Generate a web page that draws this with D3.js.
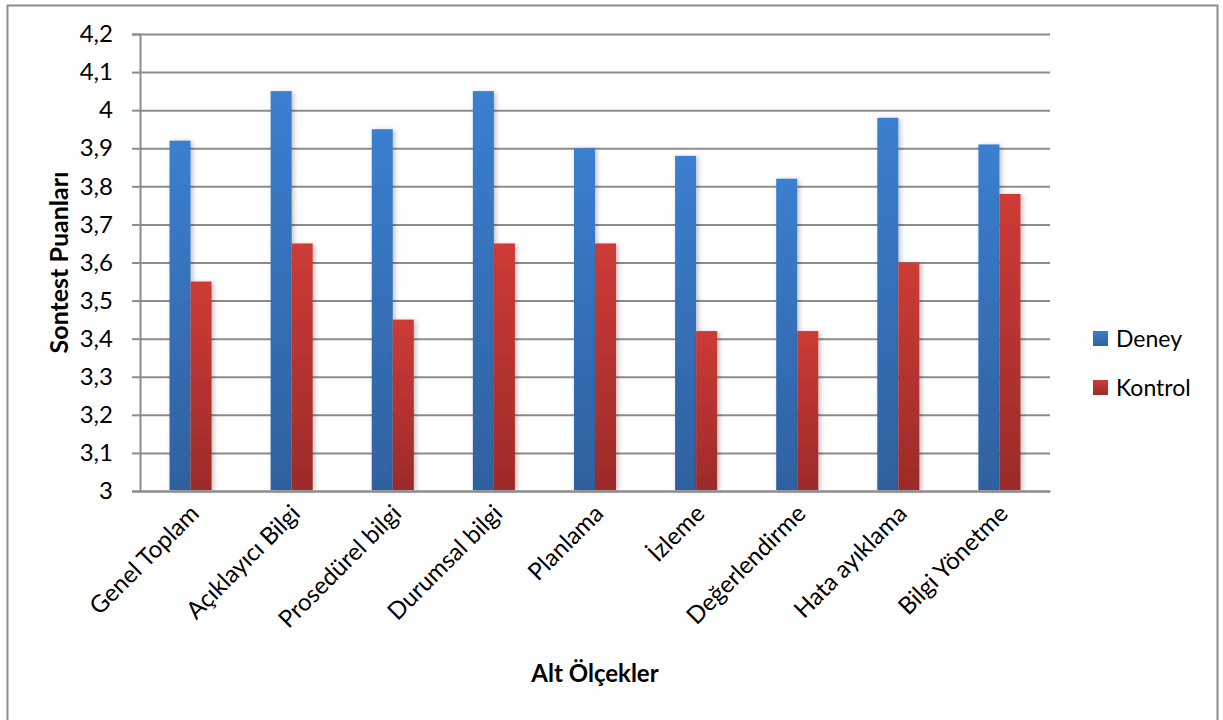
<!DOCTYPE html>
<html>
<head>
<meta charset="utf-8">
<script src="https://cdn.jsdelivr.net/npm/d3@7"></script>
<style>
  body { margin: 0; background: #fff; }
  text { font-family: Lato, "Open Sans", sans-serif; fill: #000; }
</style>
</head>
<body>
<svg id="chart" width="1223" height="720"></svg>
<script>
const categories = ['Genel Toplam', 'Açıklayıcı Bilgi', 'Prosedürel bilgi', 'Durumsal bilgi',
  'Planlama', 'İzleme', 'Değerlendirme', 'Hata ayıklama', 'Bilgi Yönetme'];
const deney = [3.92, 4.05, 3.95, 4.05, 3.90, 3.88, 3.82, 3.98, 3.91];
const kontrol = [3.55, 3.65, 3.45, 3.65, 3.65, 3.42, 3.42, 3.60, 3.78];
const seriesNames = ['Deney', 'Kontrol'];
const yTicks = [3, 3.1, 3.2, 3.3, 3.4, 3.5, 3.6, 3.7, 3.8, 3.9, 4, 4.1, 4.2];

const width = 1223, height = 720;
const margin = {top: 34, right: 173, bottom: 231, left: 140};

const svg = d3.select('#chart');

// outer frame
svg.append('rect')
  .attr('x', 7.5).attr('y', 5.5)
  .attr('width', 1210).attr('height', 730)
  .attr('fill', 'none').attr('stroke', '#8c8c8c').attr('stroke-width', 2);

const defs = svg.append('defs');
const grads = [['gBlue', '#3b7fd0', '#2f619f'], ['gRed', '#cd3b36', '#9c2b2a']];
grads.forEach(([id, c1, c2]) => {
  const g = defs.append('linearGradient').attr('id', id)
    .attr('x1', 0).attr('y1', 0).attr('x2', 0).attr('y2', 1);
  g.append('stop').attr('offset', '0%').attr('stop-color', c1);
  g.append('stop').attr('offset', '100%').attr('stop-color', c2);
});
defs.append('filter').attr('id', 'shadow')
  .attr('x', '-50%').attr('y', '-10%').attr('width', '200%').attr('height', '120%')
  .append('feDropShadow')
  .attr('dx', 2).attr('dy', 1).attr('stdDeviation', 2.5)
  .attr('flood-color', '#000').attr('flood-opacity', 0.25);

const x = d3.scaleBand()
  .domain(categories)
  .range([margin.left, width - margin.right])
  .paddingInner(0.584).paddingOuter(0.292);

const xs = d3.scaleBand().domain(seriesNames).range([0, x.bandwidth()]);

const y = d3.scaleLinear()
  .domain([3, 4.2])
  .range([height - margin.bottom + 2, margin.top]);

const fmt = d => String(d).replace('.', ',');

// y axis with gridlines
const yAxis = g => g
  .attr('transform', `translate(${margin.left},0)`)
  .call(d3.axisLeft(y).tickValues(yTicks).tickFormat(fmt).tickSize(8).tickPadding(19))
  .call(g => g.select('.domain').attr('stroke', '#8c8c8c').attr('stroke-width', 2))
  .call(g => g.selectAll('.tick line').attr('stroke', '#8c8c8c').attr('stroke-width', 2))
  .call(g => g.selectAll('.tick line').clone()
      .attr('x1', 0)
      .attr('x2', width - margin.left - margin.right))
  .call(g => g.selectAll('.tick text').attr('font-size', 24).attr('fill', '#000'));

svg.append('g').call(yAxis);

const colors = ['url(#gBlue)', 'url(#gRed)'];
const data = [deney, kontrol];

svg.append('g')
  .selectAll('g')
  .data(categories)
  .join('g')
    .attr('transform', d => `translate(${x(d)},0)`)
  .selectAll('rect')
  .data((d, i) => seriesNames.map((s, j) => ({s, v: data[j][i]})))
  .join('rect')
    .attr('x', d => xs(d.s))
    .attr('y', d => y(d.v))
    .attr('width', xs.bandwidth())
    .attr('height', d => y(3) - 1 - y(d.v))
    .attr('fill', (d, j) => colors[j])
    .attr('filter', 'url(#shadow)');

// x axis labels
const xAxis = g => g
  .attr('transform', `translate(0,${y(3)})`)
  .call(d3.axisBottom(x).tickSize(0).tickPadding(0))
  .call(g => g.select('.domain').attr('stroke', '#8c8c8c').attr('stroke-width', 2))
  .call(g => g.selectAll('.tick text')
      .attr('font-size', 24)
      .attr('text-anchor', 'end')
      .attr('dy', 0)
      .attr('transform', 'translate(10,24) rotate(-45)'));

svg.append('g').call(xAxis);

// axis titles
svg.append('text')
  .attr('x', (margin.left + width - margin.right) / 2)
  .attr('y', 682)
  .attr('text-anchor', 'middle')
  .attr('font-size', 24).attr('font-weight', 'bold')
  .text('Alt Ölçekler');

svg.append('text')
  .attr('transform', `translate(68,${(y(3) + y(4.2)) / 2}) rotate(-90)`)
  .attr('text-anchor', 'middle')
  .attr('font-size', 25).attr('font-weight', 'bold')
  .text('Sontest Puanları');

// legend
const legend = svg.append('g')
  .attr('transform', 'translate(1093,331)')
  .selectAll('g')
  .data(seriesNames)
  .join('g')
    .attr('transform', (d, i) => `translate(0,${i * 49})`);

legend.append('rect')
  .attr('width', 15).attr('height', 15)
  .attr('fill', (d, i) => colors[i]);

legend.append('text')
  .attr('x', 23).attr('y', 16)
  .attr('font-size', 23)
  .text(d => d);
</script>
</body>
</html>
